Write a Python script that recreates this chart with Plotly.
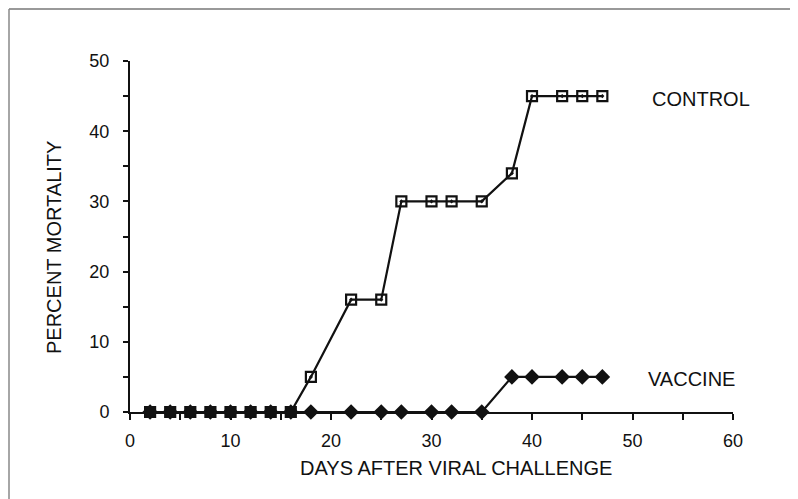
import plotly.graph_objects as go

# Data
control_days = [2, 4, 6, 8, 10, 12, 14, 16, 18, 22, 25, 27, 30, 32, 35, 38, 40, 43, 45, 47]
control_mortality = [0, 0, 0, 0, 0, 0, 0, 0, 5, 16, 16, 30, 30, 30, 30, 34, 45, 45, 45, 45]

vaccine_days = [2, 4, 6, 8, 10, 12, 14, 16, 18, 22, 25, 27, 30, 32, 35, 38, 40, 43, 45, 47]
vaccine_mortality = [0, 0, 0, 0, 0, 0, 0, 0, 0, 0, 0, 0, 0, 0, 0, 5, 5, 5, 5, 5]

x_ticks = [0, 10, 20, 30, 40, 50, 60]
y_ticks = [0, 10, 20, 30, 40, 50]

FONT = "Liberation Sans, Arial, Helvetica, sans-serif"
INK = "#111111"

# page offset of the figure inside the html body (default body margin)
OFF = 8
L, T, PW, PH = 130 - OFF, 61 - OFF, 603, 351


def px(x):
    return (x - OFF - L) / PW


def py(y):
    return (T + PH - (y - OFF)) / PH


# where both series coincide the overlapping symbols read as a filled square
vacc_lookup = dict(zip(vaccine_days, vaccine_mortality))
control_symbols = [
    "square" if vacc_lookup.get(d) == v else "square-open-dot"
    for d, v in zip(control_days, control_mortality)
]

fig = go.Figure()

fig.add_trace(go.Scatter(
    x=vaccine_days, y=vaccine_mortality, mode="lines+markers", name="VACCINE",
    line=dict(color=INK, width=2.2),
    marker=dict(symbol="diamond", size=12, color=INK, line=dict(width=0)),
    cliponaxis=False,
))
fig.add_trace(go.Scatter(
    x=control_days, y=control_mortality, mode="lines+markers", name="CONTROL",
    line=dict(color=INK, width=2.2),
    marker=dict(symbol=control_symbols, size=10, color=INK, line=dict(color=INK, width=2.2)),
    cliponaxis=False,
))

fig.update_layout(
    width=798 - OFF, height=499 - OFF,
    margin=dict(l=L, r=798 - OFF - L - PW, t=T, b=499 - OFF - T - PH),
    paper_bgcolor="white", plot_bgcolor="white",
    showlegend=False,
    font=dict(family=FONT, color=INK),
    xaxis=dict(
        range=[0, 60], tickvals=x_ticks, ticktext=[str(v) for v in x_ticks],
        showgrid=False, zeroline=False, showline=True, linecolor=INK, linewidth=2,
        ticks="outside", ticklen=6, tickwidth=1.5, tickcolor=INK,
        tickfont=dict(size=18, family=FONT, color=INK), ticklabelstandoff=5,
        minor=dict(dtick=5, tick0=0, ticks="outside", ticklen=6, tickwidth=1.5, tickcolor=INK, showgrid=False),
    ),
    yaxis=dict(
        range=[0, 50], tickvals=y_ticks, ticktext=[str(v) for v in y_ticks],
        showgrid=False, zeroline=False, showline=True, linecolor=INK, linewidth=2,
        ticks="outside", ticklen=5, tickwidth=1.5, tickcolor=INK,
        tickfont=dict(size=18, family=FONT, color=INK), ticklabelstandoff=10,
        minor=dict(dtick=5, tick0=0, ticks="outside", ticklen=5, tickwidth=1.5, tickcolor=INK, showgrid=False),
    ),
    annotations=[
        dict(text="PERCENT MORTALITY", xref="paper", yref="paper",
             x=px(54), y=py(248), textangle=-90,
             showarrow=False, font=dict(size=20, family=FONT, color=INK),
             xanchor="center", yanchor="middle"),
        dict(text="DAYS AFTER VIRAL CHALLENGE", xref="paper", yref="paper",
             x=px(456), y=py(468),
             showarrow=False, font=dict(size=20, family=FONT, color=INK),
             xanchor="center", yanchor="middle"),
        dict(text="CONTROL", xref="paper", yref="paper",
             x=px(650), y=py(99),
             showarrow=False, font=dict(size=20, family=FONT, color=INK),
             xanchor="left", yanchor="middle"),
        dict(text="VACCINE", xref="paper", yref="paper",
             x=px(646), y=py(379),
             showarrow=False, font=dict(size=20, family=FONT, color=INK),
             xanchor="left", yanchor="middle"),
    ],
    shapes=[
        dict(type="line", xref="paper", yref="paper",
             x0=px(9), x1=px(798),
             y0=py(9), y1=py(9),
             line=dict(color="#777777", width=1.5)),
        dict(type="line", xref="paper", yref="paper",
             x0=px(9), x1=px(9),
             y0=py(9), y1=py(499),
             line=dict(color="#888888", width=1.5)),
    ],
)

fig.write_html("out.html")
